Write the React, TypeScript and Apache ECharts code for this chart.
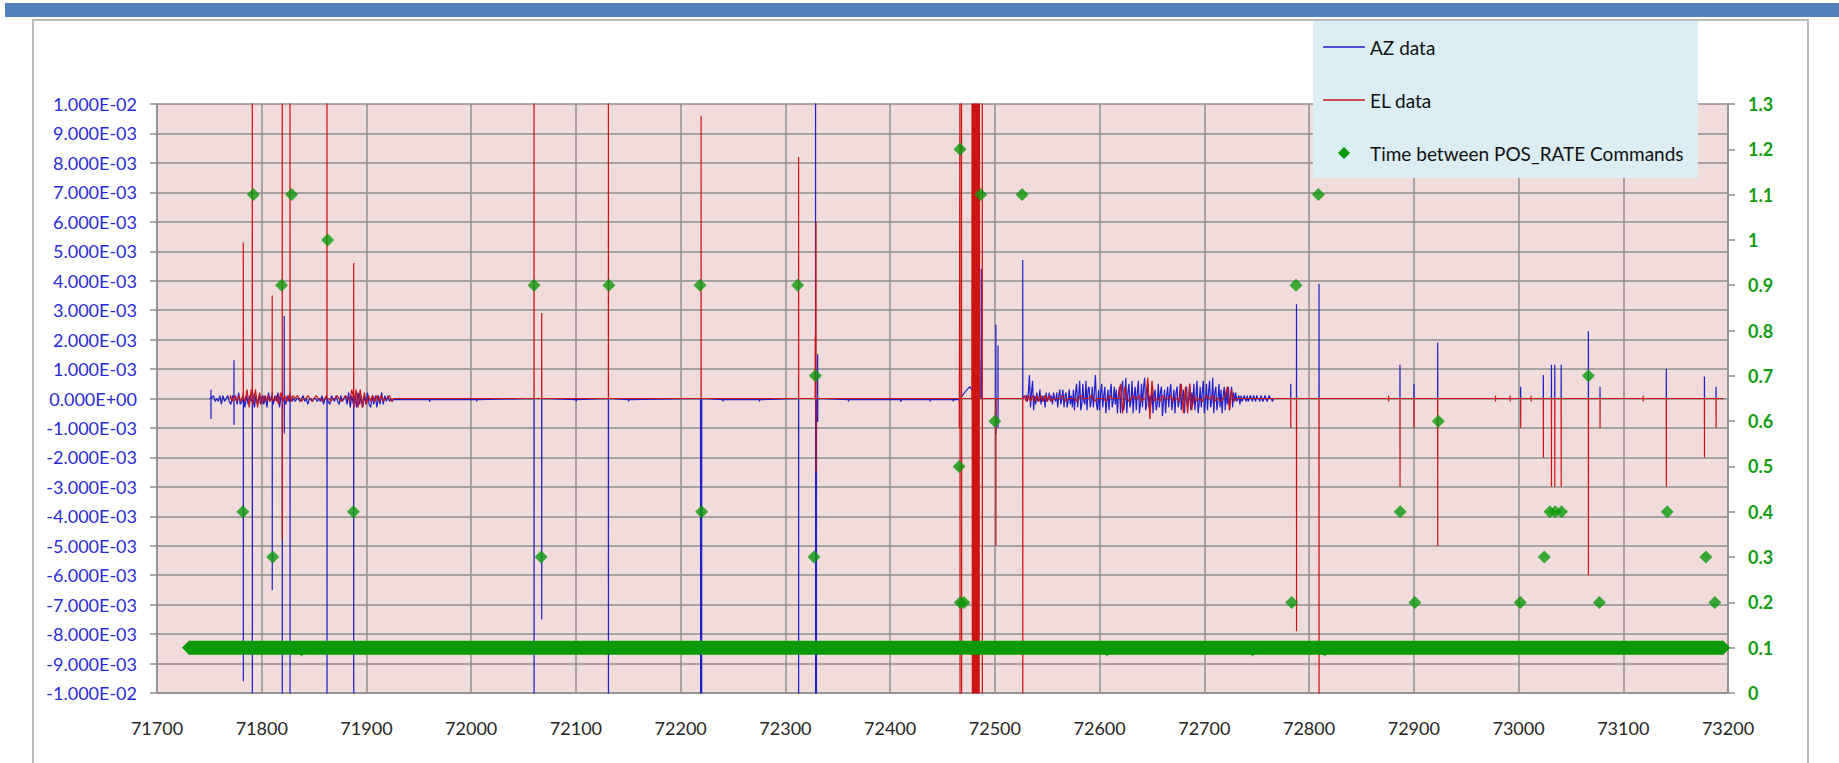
import React, { useEffect, useRef } from 'react';
import * as echarts from 'echarts';

// ---------- axis ticks ----------
const xMin = 71700;
const xMax = 73200;
const xStep = 100;
const leftMin = -0.01;
const leftMax = 0.01;
const leftStep = 0.001;
const rightMin = 0;
const rightMax = 1.3;
const rightStep = 0.1;

// ---------- AZ data (blue) ----------
const azStart = 71750;
const azEnd = 73196;
// [x, peak up, peak down]
const azSpikes: number[][] = [
  [71751.5, 0.0003, -0.0007],
  [71773.5, 0.0013, -0.0009],
  [71782.4, 0.0002, -0.0096],
  [71791.0, 0.0003, -0.012],
  [71810.0, 0.0002, -0.0065],
  [71819.6, 0.0002, -0.012],
  [71821.5, 0.0028, -0.0012],
  [71827.0, 0.0002, -0.012],
  [71862.3, 0, -0.012],
  [71887.8, 0, -0.012],
  [72060.0, 0, -0.012],
  [72067.3, 0, -0.0075],
  [72131.0, 0, -0.012],
  [72219.0, 0, -0.012],
  [72220.0, 0, -0.012],
  [72312.6, 0, -0.012],
  [72328.8, 0.012, -0.012],
  [72329.6, 0, -0.012],
  [72330.8, 0.0015, -0.0008],
  [72485.5, 0.0013, 0],
  [72487.0, 0.0044, 0],
  [72501.0, 0.0025, -0.0012],
  [72503.0, 0.0018, -0.001],
  [72526.6, 0.0047, 0],
  [72782.5, 0.0005, 0],
  [72788.0, 0.0032, 0],
  [72809.5, 0.0039, 0],
  [72886.8, 0.00115, 0],
  [72900.2, 0.0005, 0],
  [72922.8, 0.0019, 0],
  [73002.0, 0.0004, 0],
  [73023.7, 0.0008, 0],
  [73031.4, 0.00115, 0],
  [73034.6, 0.00115, 0],
  [73040.7, 0.00115, 0],
  [73066.7, 0.00228, 0],
  [73077.8, 0.0004, 0],
  [73141.1, 0.001, 0],
  [73177.5, 0.00075, 0],
  [73188.6, 0.0004, 0],
];
// noise samples, values in units of 1e-4
const azNoiseA = {
  start: 71754,
  step: 1.5,
  vals: [
    1, -1, 0, -1, 1, -2, 1, -1, 0, 1, -1,
    -2, 1, -3, 1, -2, 2, -2, -1, 1, -3, 1, -2, 1, -1, 2, -3, 1, -2, 1, -2,
    1, -2, 1, -3, 2, -1, 1, -2, 1, -1, 2, -3, 1, -1, 1, -2, 1, -1, 1, -1,
    0, -1, 0, 0, -1, 0, 1, -1, 0, -2, 0, 0, -1, 0, 0, -1, 0,
    -1, 1, -2, 0, 1, -1, -2, 1, 0, -1, 1, -1, -2, 1, -1, 0, 1,
    -2, 2, -3, 1, -2, 1, -3, 2, -2, 1, -3, 1, -2, 2, -2, -3, 1, -2, 1, -3, 1, -2, 2, -2, 1, -1, 1, -1, 0, -1,
  ],
};
const azNoiseB = {
  start: 72530,
  step: 1,
  vals: [
    1, -1, 2, 8, -3, 2, 6, -4, 1, -2, 2, -1, 0, 3, -2, 1, -1, 1, -3, 2, -1, 0, 2, -1, 1, -2, 2, 0, -1, 2,
    -3, 1, 3, -2, 0, 3, -3, 1, 2, -3, -1, 3, -2, 1, -3, 3,
    -4, 2, 5, -3, 1, 6, -4, -2, 5, -1, -2, 6, -4, 3, 4, -3, -1, 4, -3, 2, 8, -2, -4, 3,
    -4, 2, 5, -3, 1, 4, -5, -1, 3, -4, 2, 5, -3, -1, 4, -2, 3, -5, 1, 4,
    -5, 3, 6, -4, -1, 7, -5, 2, 5, -3, -1, 6, -5, 1, 4, -4, 2, 6, -5, -2, 5, -3, 4, 7, -4, -2, 5, -3, 1, -2,
    4, -5, 1, 3, -4, -2, 5, -3, 2, 4, -6, -1, 3, -5, 1, 4, -3, 2, 5, -4, -1, 3, -5, 2, 4, -3, -1, 5, -4, 1, 3, -5, 2, 4, -3, -1, 5, -4, 2, -2,
    5, -4, 1, 6, -5, -2, 4, -3, 2, 6, -5, -1, 5, -4, 2, 6, -3, -1, 7, -5, 2, 4, -4, -1, 5, -3, 3, -5, 1, 4,
    -4, 3, -2, 4, -4, 1, 4, -3, 2, -1,
    2, -1, 0, 1, -2, 1, -1, 0, 1, 0, -1, 1, -1, 0, 1, 0, -1, 1, 0, -1, 1, 0, 0, -1, 1, 0, -1, 0, 1, 0, -1, 0, 1, 0, 0, -1, 0,
  ],
};
// baseline level and short blips [x, value]
const azBaseline: number[][] = [
  [71925, -0.00004], [71960, -0.00004], [71960.3, -0.00012], [71960.6, -0.00004],
  [72005, -0.00004], [72005.3, -0.0001], [72005.6, -0.00004],
  [72100, -0.00004], [72100.3, -0.0001], [72100.6, -0.00004],
  [72150, -0.00004], [72150.3, -0.0001], [72150.6, -0.00004],
  [72240, -0.00004], [72240.3, -0.0001], [72240.6, -0.00004],
  [72275, -0.00004], [72275.3, -0.0001], [72275.6, -0.00004],
  [72360, -0.00004], [72360.3, -0.0001], [72360.6, -0.00004],
  [72410, -0.00004], [72410.3, -0.00012], [72410.6, -0.00004],
  [72438, -0.00004], [72438.3, -0.0001], [72438.6, -0.00004],
  [72460, -0.00004], [72460.3, -0.0001], [72460.6, -0.00004],
  [72466, -0.00004],
  [72467, 0], [72471, 0.0002], [72476, 0.0004], [72478, 0.0003],
];

// ---------- EL data (red) ----------
const elStart = 71770;
const elEnd = 73196;
const elSpikes: number[][] = [
  [71782.4, 0.0053, 0],
  [71791.0, 0.012, 0],
  [71810.0, 0.0035, 0],
  [71819.6, 0.012, -0.0048],
  [71827.0, 0.012, 0],
  [71862.3, 0.012, 0],
  [71887.8, 0.0046, 0],
  [72060.0, 0.012, 0],
  [72067.3, 0.0029, 0],
  [72131.0, 0.012, 0],
  [72219.5, 0.0096, 0],
  [72312.6, 0.0082, 0],
  [72328.5, 0.0021, 0],
  [72329.2, 0.006, -0.0025],
  [72466.0, 0, -0.001],
  [72466.7, 0.012, -0.012],
  [72468.2, 0.012, -0.012],
  [72488.0, 0.012, -0.012],
  [72501.0, 0, -0.005],
  [72526.6, 0, -0.012],
  [72782.5, 0, -0.001],
  [72788.0, 0, -0.0079],
  [72809.5, 0, -0.012],
  [72876.0, 0.0001, -0.0001],
  [72886.8, 0, -0.003],
  [72900.2, 0, -0.001],
  [72922.8, 0, -0.005],
  [72978.0, 0.0001, -0.0001],
  [72992.0, 0.0001, -0.0001],
  [73002.0, 0, -0.001],
  [73012.0, 0.0001, -0.0001],
  [73023.7, 0, -0.002],
  [73031.4, 0, -0.003],
  [73034.6, 0, -0.003],
  [73040.7, 0, -0.003],
  [73066.7, 0, -0.006],
  [73077.8, 0, -0.001],
  [73119.0, 0.0001, -0.0001],
  [73141.1, 0, -0.003],
  [73177.5, 0, -0.002],
  [73188.6, 0, -0.001],
];
const elNoiseA = {
  start: 71770,
  step: 2,
  vals: [
    1, -1, 1, -1, 1, -1, 1, -1,
    3, -3, 3, -2, 3, -3, 2, -2,
    1, -1, 1, -1, 1, -1, 1, -2, 2, -1, 1, -1, 1, -1, 1,
    0, 1, 0, -1, 0, 0, 1, 0, -1, 0, 1, 0, 0, -1, 0, 1, 0, -1, 0, 0, 1, 0, -1, 0, 1, 0, -1,
    3, -3, 3, -3, 3, -3, 2, -2,
    1, -1, 1, -1, 1, -1, 1, -1, 0, 0, 1, -1, 0, 0, 0,
  ],
};
// full-scale oscillation between x = 72478 and 72485.5
const elBurst = {
  start: 72478,
  step: 0.25,
  vals: [
    0, 120, -120, 120, -120, 120, -120, 120, -120, 120, -120, 120, -120, 120, -120, 120,
    -120, 120, -120, 120, -120, 120, -120, 120, -120, 120, -120, 120, -120, 120, 0,
  ],
};
const elNoiseB = {
  start: 72528,
  step: 2,
  vals: [
    1, -1, 1, -1, 1, -1, 1, -1, 1, -1, 1, -1, 1, -1, 0, 0, 0,
    0, 1, 0, -1, 0, 0, 0, 0, -1, 0, 1, 0, 0, 0, 0, 1, 0, -1, 0, 0, 0, 0, -1, 0, 1, 0, 0, 0, 0,
    5, -5, 4,
    0, -1, 0, 1, 0, 0, 1, -1, 0, 0,
    7, -7, 6,
    -1, 0, 0, -1, 1, 0, 0, 0, 1, -1, 0, 0, -1,
    5, -5, 4, -5, 5, -4,
    1, -1, 0, 0, -1, 0, 1, 0, 0, 1, -1, 0, 0, -1, 0, 1,
    4, -4, 3, -1, 0,
  ],
};

// ---------- Time between POS_RATE Commands (green, right axis) ----------
const timePoints: number[][] = [
  [71782, 0.4], [71792, 1.1], [71810.5, 0.3], [71819, 0.9], [71828.6, 1.1], [71838, 0.095],
  [71863, 1.0], [71887.5, 0.4], [72060, 0.9], [72066.7, 0.3], [72131.5, 0.9], [72218.5, 0.9],
  [72220, 0.4], [72311.7, 0.9], [72327.3, 0.3], [72328.6, 0.7], [72465.8, 0.5], [72466.7, 1.2],
  [72467, 0.2], [72470.5, 0.2], [72486.5, 1.1], [72500, 0.6], [72526, 1.1], [72607, 0.095],
  [72746, 0.095], [72783.4, 0.2], [72787.5, 0.9], [72808.9, 1.1], [72815, 0.095], [72887, 0.4],
  [72901, 0.2], [72923.4, 0.6], [73001.7, 0.2], [73024.6, 0.3], [73030, 0.4], [73035, 0.4],
  [73041, 0.4], [73066.7, 0.7], [73077.2, 0.2], [73142, 0.4], [73178.9, 0.3], [73187.4, 0.2],
];
// the dense run of samples at 0.1 that forms a solid band
const timeBand: number[][] = [[71731, 0.1], [73195, 0.1]];

const SERIES_AZ = 'AZ data';
const SERIES_EL = 'EL data';
const SERIES_T = 'Time between POS_RATE Commands';

type Noise = { start: number; step: number; vals: number[] };

function buildTrace(start: number, end: number, spikes: number[][], noise: Noise[], extra: number[][]) {
  const pts: number[][] = [[start, 0], [end, 0]];
  for (const [x, up, down] of spikes) {
    pts.push([x - 0.05, 0]);
    if (up) pts.push([x, up]);
    if (down) pts.push([x + 0.05, down]);
    pts.push([x + 0.1, 0]);
  }
  for (const n of noise) n.vals.forEach((v, i) => pts.push([n.start + i * n.step, v * 1e-4]));
  for (const p of extra) pts.push(p);
  pts.sort((a, b) => a[0] - b[0]);
  return pts;
}

function fmtSci(v: number) {
  if (Math.abs(v) < 1e-12) return '0.000E+00';
  const [m, e] = v.toExponential(3).split('e');
  const sign = e[0] === '-' ? '-' : '+';
  const d = e.replace(/^[+-]/, '').padStart(2, '0');
  return `${m}E${sign}${d}`;
}

const GRID = '#8f8f8f';
const BLUE = '#1f1fcc';
const RED = '#cc1414';
const GREEN = '#0a9a0a';
const FONT = 'Lato';

export default function App() {
  const ref = useRef<HTMLDivElement>(null);
  useEffect(() => {
    document.body.style.margin = '0';
    if (!ref.current) return;
    const chart = echarts.init(ref.current, undefined, { renderer: 'svg' });
    const azData = buildTrace(azStart, azEnd, azSpikes, [azNoiseA, azNoiseB], azBaseline);
    const elData = buildTrace(elStart, elEnd, elSpikes, [elNoiseA, elBurst, elNoiseB], []);
    const lineIcon = 'path://M0,0H42V1.6H0Z';
    const option: any = {
      animation: false,
      backgroundColor: '#ffffff',
      textStyle: { fontFamily: FONT },
      grid: {
        left: 157, right: 111, top: 104, bottom: 70,
        show: true, backgroundColor: '#f2dcdb', borderWidth: 0, containLabel: false,
      },
      xAxis: {
        type: 'value', min: xMin, max: xMax, interval: xStep,
        axisLine: { show: true, onZero: false, lineStyle: { color: GRID, width: 1.5 } },
        axisTick: { show: false },
        axisLabel: {
          color: '#262626', fontSize: 18, fontFamily: FONT, margin: 26,
          formatter: (v: number) => String(Math.round(v)),
        },
        splitLine: { show: true, lineStyle: { color: GRID, width: 1.5 } },
      },
      yAxis: [
        {
          type: 'value', position: 'left', min: leftMin, max: leftMax, interval: leftStep,
          axisLine: { show: true, onZero: false, lineStyle: { color: GRID, width: 1.5 } },
          axisTick: { show: true, length: 7, lineStyle: { color: GRID, width: 1.5 } },
          axisLabel: { color: '#2b2bd6', fontSize: 18, fontFamily: FONT, margin: 20, formatter: fmtSci },
          splitLine: { show: true, lineStyle: { color: GRID, width: 1.5 } },
        },
        {
          type: 'value', position: 'right', min: rightMin, max: rightMax, interval: rightStep,
          axisLine: { show: true, onZero: false, lineStyle: { color: GRID, width: 1.5 } },
          axisTick: { show: true, length: 7, lineStyle: { color: GRID, width: 1.5 } },
          axisLabel: {
            color: '#129c12', fontSize: 18, fontFamily: FONT, margin: 20, fontWeight: 'bold',
            formatter: (v: number) => String(parseFloat(v.toFixed(1))),
          },
          splitLine: { show: false },
        },
      ],
      legend: {
        show: true, orient: 'vertical', left: 1323, top: 37, padding: 0, itemGap: 33,
        itemWidth: 42, itemHeight: 12, z: 10, selectedMode: false,
        textStyle: { fontFamily: FONT, fontSize: 19, color: '#111', lineHeight: 20 },
        data: [
          { name: SERIES_AZ, icon: lineIcon },
          { name: SERIES_EL, icon: lineIcon },
          { name: SERIES_T, icon: 'path://M6,0L12,6L6,12L0,6Z' },
        ],
      },
      graphic: [
        { type: 'rect', silent: true, z: 1, shape: { x: 5, y: 3, width: 1834, height: 14 }, style: { fill: '#4f81bd' } },
        { type: 'rect', silent: true, z: 1, shape: { x: 33, y: 20, width: 1775, height: 800 }, style: { fill: 'none', stroke: '#a6a6a6', lineWidth: 1.5 } },
        { type: 'rect', silent: true, z: 8, shape: { x: 1313, y: 21, width: 385, height: 157 }, style: { fill: '#daeef3' } },
      ],
      series: [
        {
          name: SERIES_AZ, type: 'line', yAxisIndex: 0, data: azData, showSymbol: false, symbol: 'none',
          lineStyle: { color: BLUE, width: 1.2 }, itemStyle: { color: BLUE }, z: 2, silent: true,
        },
        {
          name: SERIES_EL, type: 'line', yAxisIndex: 0, data: elData, showSymbol: false, symbol: 'none',
          lineStyle: { color: RED, width: 1.2 }, itemStyle: { color: RED }, z: 3, silent: true,
        },
        {
          name: SERIES_T, type: 'line', yAxisIndex: 1, data: timeBand, symbol: 'diamond', symbolSize: 15,
          showSymbol: true, lineStyle: { color: GREEN, width: 14 }, itemStyle: { color: GREEN }, z: 4, silent: true,
        },
        {
          name: SERIES_T, type: 'scatter', yAxisIndex: 1, data: timePoints, symbol: 'diamond', symbolSize: 13,
          itemStyle: { color: GREEN }, z: 5, silent: true,
        },
      ],
    };
    chart.setOption(option);
    return () => chart.dispose();
  }, []);
  return <div ref={ref} style={{ width: 1839, height: 763 }} />;
}
